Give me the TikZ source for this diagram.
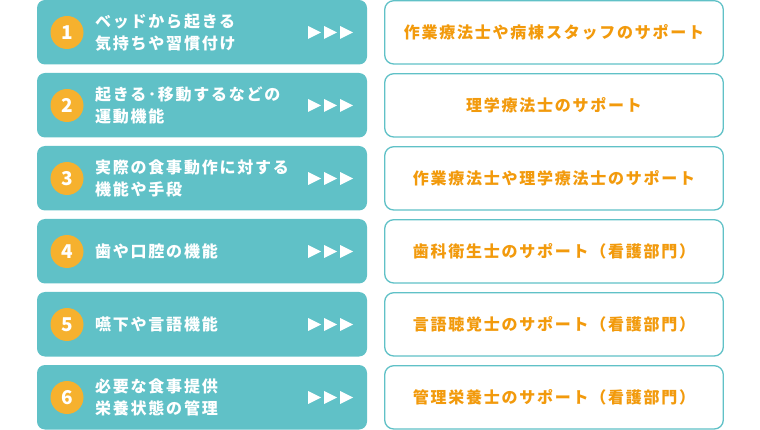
\documentclass[tikz,border=0pt]{standalone}
\usepackage{fontspec}
\newfontfamily\jp[LetterSpace=11]{Noto Sans CJK JP}
\newfontfamily\jpnum{Noto Sans CJK JP}
\definecolor{teal1}{HTML}{60C1C7}
\definecolor{orng}{HTML}{F6B12E}
\definecolor{otext}{HTML}{F29A0C}
\tikzset{
  leftbox/.style={fill=teal1, rounded corners=8pt, draw=none},
  rightbox/.style={fill=white, draw=teal1, line width=1.3pt, rounded corners=9pt},
  numcirc/.style={circle, fill=orng, minimum size=33pt, inner sep=0pt, text=white, font=\jpnum\bfseries\fontsize{19}{19}\selectfont},
  lefttext/.style={anchor=west, align=left, text=white, inner sep=0pt, font=\jp\bfseries\fontsize{16}{22}\selectfont},
  righttext/.style={anchor=center, text=otext, inner sep=0pt, font=\jp\bfseries\fontsize{16}{22}\selectfont},
  tri/.style={fill=white, draw=none}
}
\begin{document}
\begin{tikzpicture}[x=1pt,y=-1pt]
\useasboundingbox (0,0) rectangle (760,430);
\foreach \i/\t/\ltxt/\rtxt in {
 1/0/{ベッドから起きる\\気持ちや習慣付け}/{作業療法士や病棟スタッフのサポート},
 2/73/{起きる･移動するなどの\\運動機能}/{理学療法士のサポート},
 3/146/{実際の食事動作に対する\\機能や手段}/{作業療法士や理学療法士のサポート},
 4/219/{歯や口腔の機能}/{歯科衛生士のサポート（看護部門）},
 5/292/{嚥下や言語機能}/{言語聴覚士のサポート（看護部門）},
 6/365/{必要な食事提供\\栄養状態の管理}/{管理栄養士のサポート（看護部門）}}{
  \path[leftbox] (37,\t) rectangle (367,\t+64.5);
  \node[numcirc] (n\i) at (67,\t+32.5) {\i};
  \node[lefttext] (l\i) at (95,\t+32.5) {\ltxt};
  \path[tri] (308,\t+26) -- (321,\t+32.5) -- (308,\t+39) -- cycle;
  \path[tri] (324,\t+26) -- (337,\t+32.5) -- (324,\t+39) -- cycle;
  \path[tri] (340,\t+26) -- (353,\t+32.5) -- (340,\t+39) -- cycle;
  \draw[rightbox] (384.7,\t+0.7) rectangle (723.3,\t+64);
  \node[righttext] (r\i) at (554,\t+32.5) {\rtxt};
}
\end{tikzpicture}
\end{document}
